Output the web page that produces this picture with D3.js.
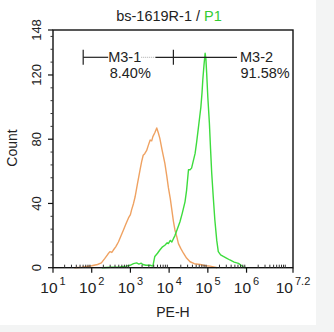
<!DOCTYPE html>
<html>
<head>
<meta charset="utf-8">
<script src="https://cdn.jsdelivr.net/npm/d3@7"></script>
<style>
html,body{margin:0;padding:0;background:#f3f4f4;}
svg{display:block;font-family:"Liberation Sans",Arial,sans-serif;}
</style>
</head>
<body>
<svg id="chart" width="334" height="332"></svg>
<script>
// ---- data (x in log10 units of PE-H, y = count) ----
const controlLog   = [1.55,1.75,2.0,2.15,2.25,2.34,2.42,2.47,2.52,2.56,2.62,2.69,2.76,2.82,2.88,2.95,3.0,3.03,3.08,3.12,3.18,3.25,3.29,3.33,3.37,3.42,3.46,3.51,3.55,3.58,3.63,3.68,3.72,3.76,3.82,3.89,3.94,3.98,4.03,4.07,4.11,4.15,4.2,4.24,4.3,4.37,4.45,4.54,4.65,4.8,4.95,5.06,5.15,5.24];
const controlCount = [0,0.3,1.2,2,3,5.8,8.5,10,9.5,11,13,16,20,23.5,27,31,33,36,40,44,52,61,66,70,71,73,76,79.5,79,81.6,84,87,84,80.5,73,65,57,50,43,36,29,23.5,19,15,12,9,6,3.7,2.5,2,1.2,1,0.5,0];
const sampleLog    = [2.26,2.5,2.73,2.9,2.99,3.08,3.16,3.22,3.28,3.32,3.4,3.51,3.58,3.63,3.7,3.76,3.83,3.89,3.95,3.98,4.03,4.07,4.11,4.15,4.21,4.28,4.34,4.41,4.45,4.5,4.54,4.58,4.62,4.67,4.71,4.75,4.79,4.82,4.85,4.87,4.9,4.93,4.95,4.97,5.0,5.04,5.07,5.1,5.14,5.18,5.23,5.27,5.33,5.4,5.48,5.57,5.68,5.79,5.86,5.92,6.0];
const sampleCount  = [0,0.3,0.5,1,1.5,2.5,3,2.2,2.8,2,1.5,1.5,1,7,9,11,13,14,15.5,15,17,16,18,20,24,28.6,34,41,48,61,61,62,66,71,78,86,94,100,109,117,126,133.5,130,121,106,90,74,59,44,30,17,10,8,7,6,4.8,3.5,2.7,1.5,0.3,0];
const xMajorExp    = [1,2,3,4,5,6,7.2];
const xMajorLabels = ["1","2","3","4","5","6","7.2"];
const yMajorTicks  = [0,40,80,120,148];
const yMinorStep   = 8;
const markerLog    = [1.78, 4.11, 7.2];   // M3-1 start, split, M3-2 end
const markerCount  = 131;
const markerNames  = ["M3-1","M3-2"];
const markerPcts   = ["8.40%","91.58%"];
const titleMain = "bs-1619R-1 / ";
const titleGate = "P1";

// ---- layout ----
const L = 53, R = 293, T = 30, B = 267.7;
const svg = d3.select("#chart");
svg.append("rect").attr("x",0).attr("y",0).attr("width",316).attr("height",325).attr("fill","#ffffff");

const x = d3.scaleLog().domain([10, Math.pow(10,7.2)]).range([L, R]);
const y = d3.scaleLinear().domain([0,148]).range([B, T]);
const X = e => x(Math.pow(10,e));

const cOrange = "#efa262", cGreen = "#3ddc3d";

// curves
const line = d3.line().x(d => X(d[0])).y(d => y(d[1]));
svg.append("path").datum(d3.zip(controlLog, controlCount))
  .attr("d", line).attr("fill","none").attr("stroke",cOrange).attr("stroke-width",1.4).attr("stroke-linejoin","round");
svg.append("path").datum(d3.zip(sampleLog, sampleCount))
  .attr("d", line).attr("fill","none").attr("stroke",cGreen).attr("stroke-width",1.4).attr("stroke-linejoin","round");

// frame
svg.append("rect").attr("x",L).attr("y",T).attr("width",R-L).attr("height",B-T)
  .attr("fill","none").attr("stroke","#111").attr("stroke-width",1.4);

// y axis ticks
const yMinor = d3.range(0,149,yMinorStep).filter(v => !yMajorTicks.includes(v));
svg.selectAll(".ymin").data(yMinor).join("line")
  .attr("x1",L-2.5).attr("x2",L).attr("y1",d=>y(d)).attr("y2",d=>y(d)).attr("stroke","#333").attr("stroke-width",1);
svg.selectAll(".ymaj").data(yMajorTicks).join("line")
  .attr("x1",L-5).attr("x2",L).attr("y1",d=>y(d)).attr("y2",d=>y(d)).attr("stroke","#111").attr("stroke-width",1.2);
svg.selectAll(".ylab").data(yMajorTicks).join("text")
  .attr("transform",d=>`translate(41,${y(d)}) rotate(-90)`)
  .attr("text-anchor","middle").attr("font-size",13).attr("fill","#222").text(d=>d);
svg.append("text").attr("transform",`translate(17,148) rotate(-90)`)
  .attr("text-anchor","middle").attr("font-size",14).attr("fill","#222").text("Count");

// x axis ticks
const xMinor = [];
for (let e=1;e<=6;e++) for (let m=2;m<=9;m++) xMinor.push(m*Math.pow(10,e));
xMinor.push(1e7);
svg.selectAll(".xmin").data(xMinor).join("line")
  .attr("x1",d=>x(d)).attr("x2",d=>x(d)).attr("y1",B).attr("y2",B-3).attr("stroke","#333").attr("stroke-width",1);
svg.selectAll(".xmaj").data(xMajorExp).join("line")
  .attr("x1",d=>X(d)).attr("x2",d=>X(d)).attr("y1",B).attr("y2",B+5).attr("stroke","#111").attr("stroke-width",1.2);
const xl = svg.selectAll(".xlab").data(xMajorExp).join("text")
  .attr("x",d=>X(d)).attr("y",292.5).attr("text-anchor","middle").attr("fill","#222");
xl.append("tspan").attr("font-size",15.5).text("10");
xl.append("tspan").attr("font-size",11).attr("dx",2).attr("dy",-7.5).text((d,i)=>xMajorLabels[i]);
svg.append("text").attr("x",(L+R)/2).attr("y",316.5).attr("text-anchor","middle")
  .attr("font-size",14).attr("fill","#222").text("PE-H");

// title
const tt = svg.append("text").attr("x",169).attr("y",21).attr("text-anchor","middle").attr("font-size",14.5).attr("fill","#222");
tt.append("tspan").text(titleMain);
tt.append("tspan").attr("fill","#33cc33").text(titleGate);

// markers
const my = y(markerCount);
const x0 = X(markerLog[0]), x1 = X(markerLog[1]);
svg.append("line").attr("x1",x0).attr("x2",x0).attr("y1",my-7.5).attr("y2",my+7.5).attr("stroke","#222").attr("stroke-width",1.2);
svg.append("line").attr("x1",x1).attr("x2",x1).attr("y1",my-7.5).attr("y2",my+7.5).attr("stroke","#222").attr("stroke-width",1.2);
const t1x = x0 + 25, t2x = 240;
svg.append("line").attr("x1",x0).attr("x2",t1x).attr("y1",my).attr("y2",my).attr("stroke","#222").attr("stroke-width",1.2);
svg.append("line").attr("x1",t1x+33).attr("x2",x1-18).attr("y1",my).attr("y2",my).attr("stroke","#aaa").attr("stroke-width",1).attr("stroke-dasharray","1,1");
svg.append("line").attr("x1",x1-18).attr("x2",t2x-3).attr("y1",my).attr("y2",my).attr("stroke","#222").attr("stroke-width",1.2);
[[t1x, 0],[t2x, 1]].forEach(([tx,i]) => {
  svg.append("text").attr("x",tx).attr("y",my+4.5).attr("font-size",14.5).attr("fill","#222").text(markerNames[i]);
  svg.append("text").attr("x",tx+ (i===0?1.5:0.5)).attr("y",my+20.5).attr("font-size",14.5).attr("fill","#222").text(markerPcts[i]);
});
</script>
</body>
</html>
